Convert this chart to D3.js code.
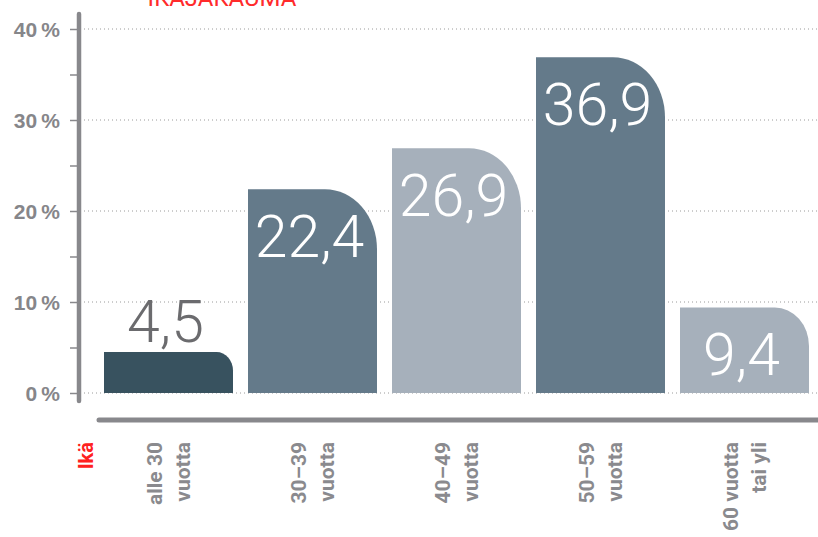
<!DOCTYPE html>
<html>
<head>
<meta charset="utf-8">
<title>ikäjakauma</title>
<script src="https://cdn.jsdelivr.net/npm/d3@7"></script>
<style>
  body { margin: 0; background: #fff; }
  svg { display: block; font-family: Roboto, "Liberation Sans", sans-serif; }
  .grid line { stroke: #9a9a9a; stroke-width: 1; stroke-dasharray: 1,3; }
  .y.axis .tick line { stroke: #88888c; stroke-width: 1.5; }
  .y.axis .tick text { fill: #86868a; font-size: 21px; font-weight: 700; }
  .cat { fill: #8a8a8e; font-size: 21px; font-weight: 700; }
  .val { font-size: 59px; font-weight: 300; }
</style>
</head>
<body>
<script>
// data
const ages = ["alle 30 vuotta", "30–39 vuotta", "40–49 vuotta", "50–59 vuotta", "60 vuotta tai yli"];
const ageLines = [["alle 30", "vuotta"], ["30–39", "vuotta"], ["40–49", "vuotta"], ["50–59", "vuotta"], ["60 vuotta", "tai yli"]];
const shares = [4.5, 22.4, 26.9, 36.9, 9.4];
const yTicks = [0, 5, 10, 15, 20, 25, 30, 35, 40];

const barColors = ["#38525f", "#647a8a", "#a6b0bb", "#647a8a", "#a6b0bb"];

const width = 818, height = 537;

const svg = d3.select("body").append("svg")
  .attr("width", width)
  .attr("height", height);

const x = d3.scaleBand()
  .domain(ages)
  .range([104, 809])
  .paddingInner(15 / 144)
  .paddingOuter(0);

const y = d3.scaleLinear()
  .domain([0, 40])
  .range([393, 29]);

// title, mostly cut off at the top (as in the original)
svg.append("text")
  .attr("x", 222).attr("y", 6)
  .attr("text-anchor", "middle")
  .attr("fill", "#ff2b2b")
  .style("font-size", "24px")
  .text("IKÄJAKAUMA");

// dotted gridlines
svg.append("g").attr("class", "grid")
  .selectAll("line")
  .data(yTicks.filter(d => d % 10 === 0))
  .join("line")
  .attr("x1", 84).attr("x2", width)
  .attr("y1", d => y(d)).attr("y2", d => y(d));

// y axis ticks + labels
const yAxis = d3.axisLeft(y)
  .tickValues(yTicks)
  .tickSize(9)
  .tickPadding(10)
  .tickFormat(d => d % 10 === 0 ? d + "\u2009%" : "");

svg.append("g")
  .attr("class", "y axis")
  .attr("transform", "translate(79,0)")
  .call(yAxis)
  .call(g => g.select(".domain").remove())
  .call(g => g.selectAll(".tick text").attr("dy", "0.36em"));

// thick axis lines
svg.append("line")
  .attr("x1", 79).attr("x2", 79)
  .attr("y1", 14).attr("y2", 401)
  .attr("stroke", "#88888c").attr("stroke-width", 4.5)
  .attr("stroke-linecap", "round");

svg.append("line")
  .attr("x1", 99).attr("x2", width + 5)
  .attr("y1", 420).attr("y2", 420)
  .attr("stroke", "#88888c").attr("stroke-width", 5)
  .attr("stroke-linecap", "round");

// bars with one rounded corner (top right)
function barPath(d, i) {
  const x0 = x(ages[i]), x1 = x0 + x.bandwidth();
  const top = y(d), bottom = y(0);
  const rx = Math.min(52, (bottom - top) * 0.4);
  const ry = Math.min(60, (bottom - top) * 0.45);
  return `M${x0},${bottom}L${x0},${top}L${x1 - rx},${top}` +
    `A${rx},${ry} 0 0 1 ${x1},${top + ry}L${x1},${bottom}Z`;
}

svg.append("g")
  .selectAll("path")
  .data(shares)
  .join("path")
  .attr("d", barPath)
  .attr("fill", (d, i) => barColors[i]);

// value labels
svg.append("g")
  .selectAll("text")
  .data(shares)
  .join("text")
  .attr("class", "val")
  .attr("text-anchor", "middle")
  .attr("x", (d, i) => x(ages[i]) + x.bandwidth() / 2 - 3)
  .attr("y", d => d < 5 ? y(d) - 10 : y(d) + 68)
  .attr("fill", d => d < 5 ? "#6b6b6e" : "#fff")
  .text(d => d3.format(".1f")(d).replace(".", ","));

// category labels, rotated
svg.append("text")
  .attr("transform", "translate(93,442) rotate(-90)")
  .attr("text-anchor", "end")
  .attr("fill", "#ff2020")
  .style("font-size", "20px")
  .style("font-weight", 700)
  .text("Ikä");

const cats = svg.append("g")
  .selectAll("g")
  .data(ages)
  .join("g")
  .attr("transform", d => `translate(${x(d) + x.bandwidth() / 2},442)`);

cats.selectAll("text")
  .data((d, i) => ageLines[i].map((t, j) => ({ t, j })))
  .join("text")
  .attr("class", "cat")
  .attr("text-anchor", "end")
  .attr("transform", d => `translate(${(d.j === 0 ? -14 : 14) + 7},0) rotate(-90)`)
  .text(d => d.t);
</script>
</body>
</html>
